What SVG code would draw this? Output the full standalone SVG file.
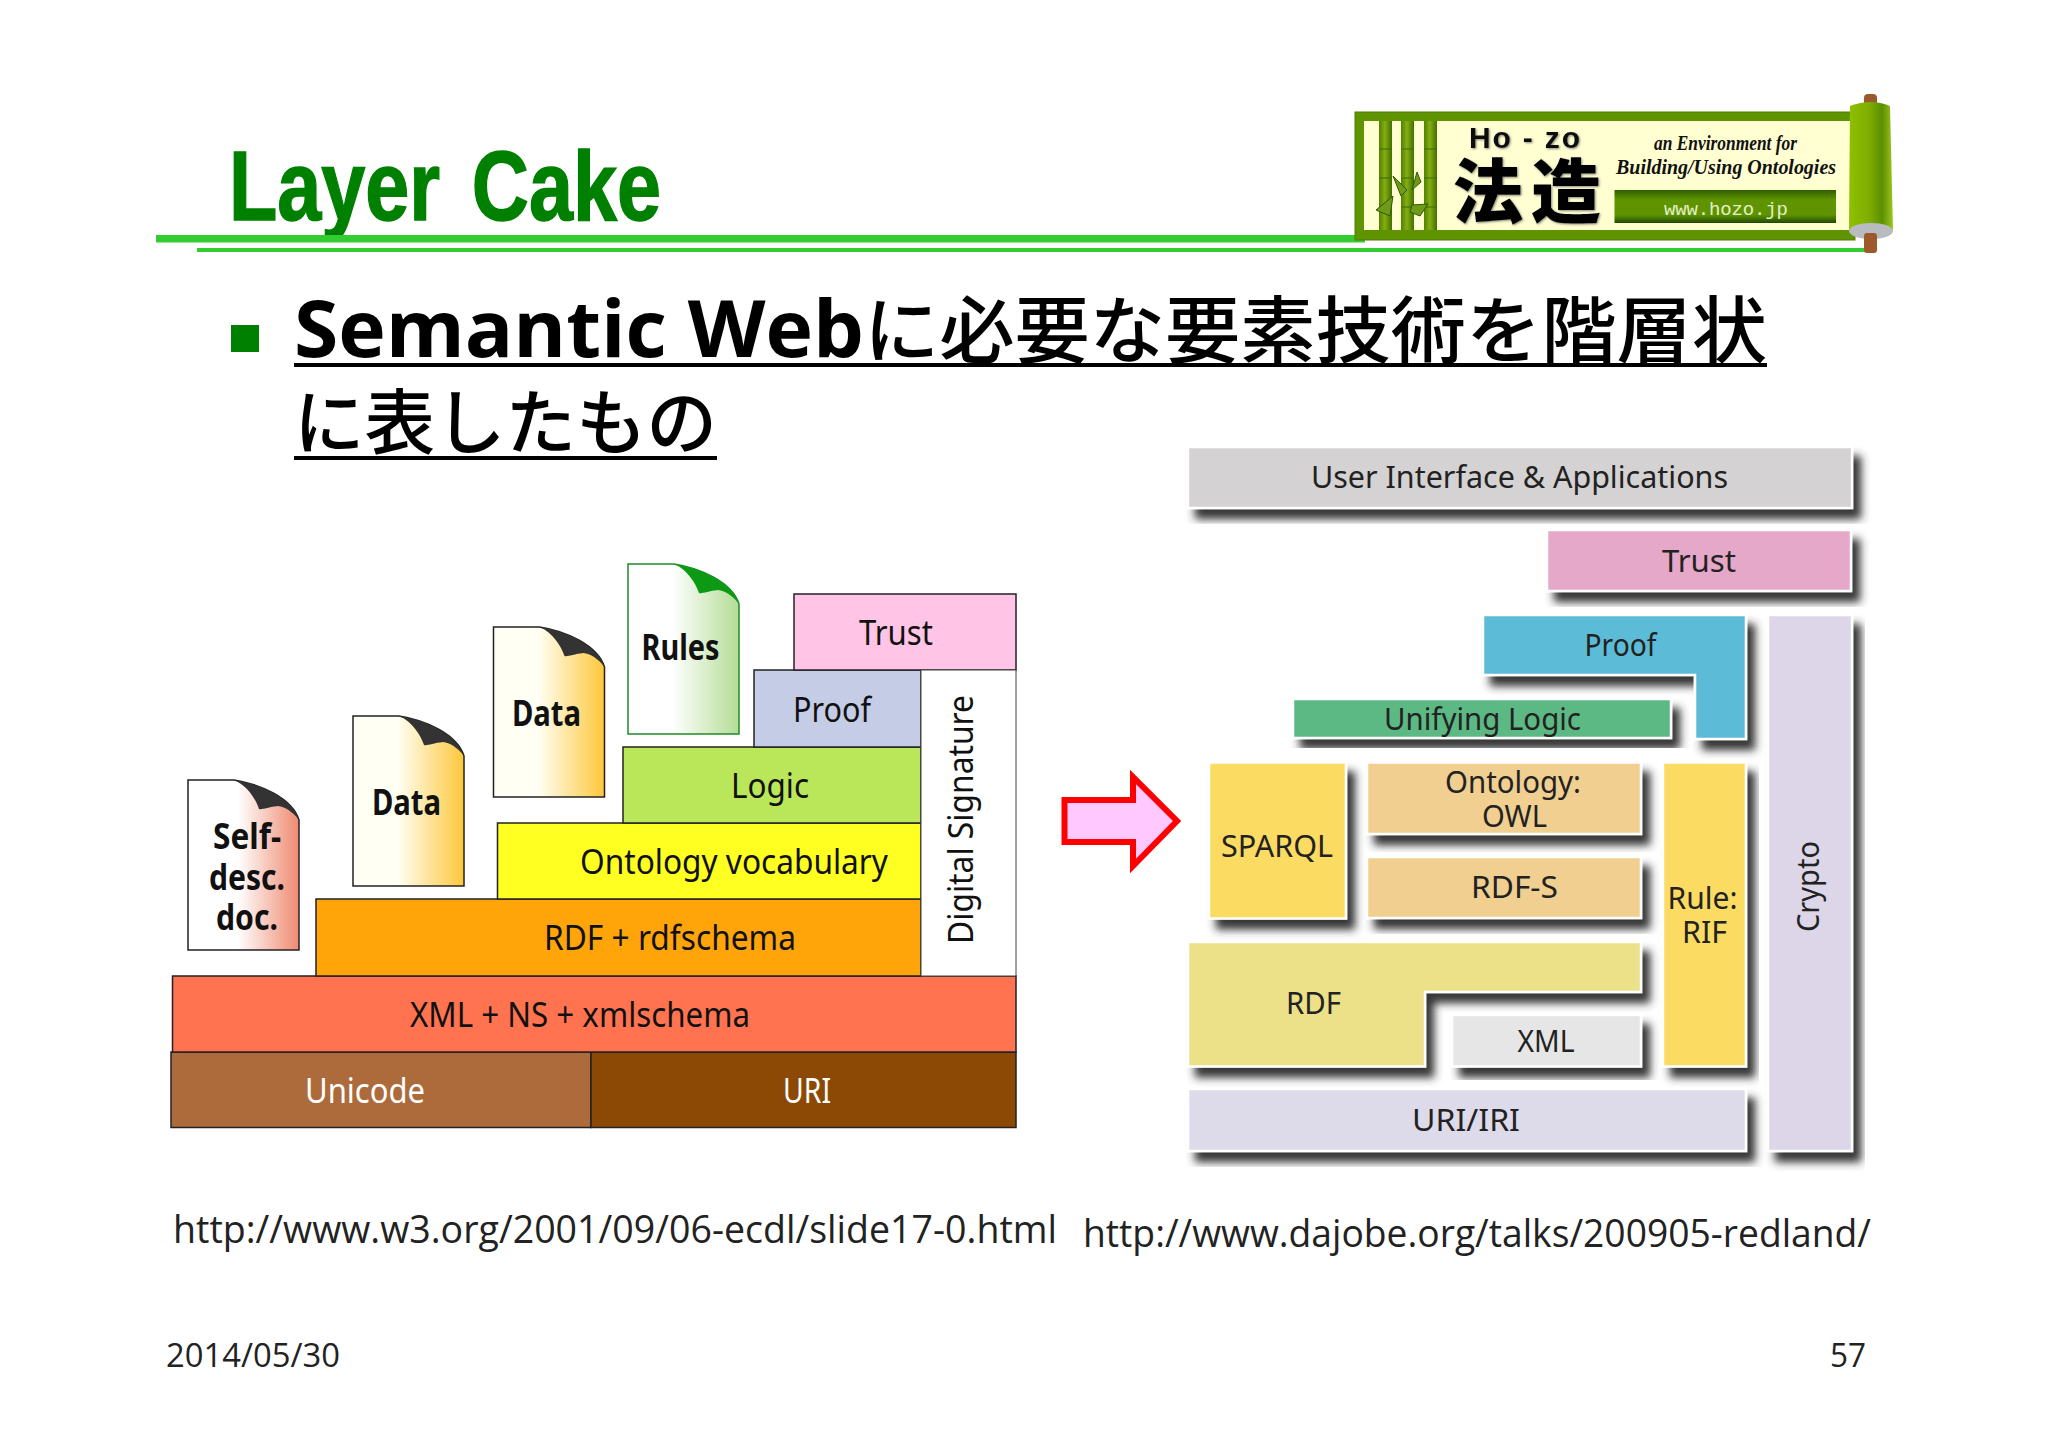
<svg xmlns="http://www.w3.org/2000/svg" width="2048" height="1448" viewBox="0 0 2048 1448">
<style>
text{font-family:"Open Sans","Noto Sans",sans-serif;fill:#111}
.c{font-size:34px;font-family:"Noto Sans","Open Sans",sans-serif}
.r{font-size:30px;font-family:"Noto Sans","Open Sans",sans-serif;fill:#222}
.d{font-size:35px;font-weight:700;font-family:"Noto Sans",sans-serif}
.b{stroke:#222;stroke-width:1.5}
.s{stroke:#fff;stroke-width:2.5}
.jp{font-family:"Open Sans","Noto Sans CJK JP",sans-serif;font-weight:500;fill:#000}
.foot{font-size:38px;fill:#222}
.num{font-size:33px;fill:#222}
.seg{stroke:#3f6b00;stroke-width:1;fill:none}
.bam{fill:url(#bam)}
.leaf{fill:#6f9a18;stroke:#2f5a00;stroke-width:1}
</style>
<defs>
<filter id="sh" x="-10%" y="-10%" width="125%" height="135%"><feDropShadow dx="8" dy="10" stdDeviation="4.5" flood-color="#2a2a2a" flood-opacity="0.95"/></filter>
<filter id="soft" x="-10%" y="-10%" width="120%" height="120%"><feDropShadow dx="1" dy="1" stdDeviation="1" flood-color="#555" flood-opacity="0.7"/></filter>
<linearGradient id="gs"><stop offset="0.45" stop-color="#fff"/><stop offset="1" stop-color="#ef8a70"/></linearGradient>
<linearGradient id="gd"><stop offset="0.4" stop-color="#fffff4"/><stop offset="1" stop-color="#fdc73a"/></linearGradient>
<linearGradient id="gr"><stop offset="0.4" stop-color="#fff"/><stop offset="1" stop-color="#b4dc96"/></linearGradient>
<linearGradient id="bam"><stop offset="0" stop-color="#4f8200"/><stop offset="0.45" stop-color="#86ad14"/><stop offset="1" stop-color="#3f7000"/></linearGradient>
<linearGradient id="rol"><stop offset="0" stop-color="#8fc000"/><stop offset="0.45" stop-color="#7fae00"/><stop offset="0.75" stop-color="#5c8f00"/><stop offset="1" stop-color="#9cc71c"/></linearGradient>
<linearGradient id="bar" x2="0" y2="1"><stop offset="0" stop-color="#2f5e00"/><stop offset="0.3" stop-color="#5f9400"/><stop offset="0.75" stop-color="#5f9400"/><stop offset="1" stop-color="#1f4a00"/></linearGradient>
<path id="doc" d="M0,0H46C72,4 104,18 111,40V170H0Z"/>
<path id="fold" d="M46,0C72,4 104,18 111,40C108,36 100,27 90,26C80,27 74,30 71,29C68,20 60,6 46,0Z"/>
</defs>
<rect width="2048" height="1448" fill="#fff"/>

<g id="title">
<text x="229" y="220" font-size="98" textLength="432" lengthAdjust="spacingAndGlyphs" word-spacing="12" style="font-family:'Liberation Sans',sans-serif;font-weight:700;fill:#008000;stroke:#008000;stroke-width:1.5">Layer Cake</text>
<rect x="156" y="235" width="1209" height="7.5" fill="#33cc33"/>
<rect x="197" y="248" width="1670" height="4" fill="#33cc33"/>
</g>

<g id="logo">
<rect x="1355" y="112" width="500" height="128" fill="#5f9400" stroke="#4f7f00" stroke-width="1"/>
<rect x="1364" y="121" width="490" height="109" fill="#ffffd2"/>
<rect class="bam" x="1379" y="121" width="13" height="109"/>
<rect class="bam" x="1401" y="121" width="13" height="109"/>
<rect class="bam" x="1424" y="121" width="13" height="109"/>
<path class="seg" d="M1379,149H1392M1379,178H1392M1401,149H1414M1401,178H1414M1401,207H1414M1424,149H1437M1424,178H1437M1424,207H1437"/>
<path class="leaf" d="M1393,176L1407,190L1401,196ZM1417,172L1421,182L1412,190ZM1393,196L1376,210L1390,216ZM1412,205L1428,204L1420,216L1410,212Z"/>
<text x="1469" y="148" font-size="30" textLength="111" style="font-family:'Liberation Sans',sans-serif;font-weight:700;fill:#111" filter="url(#soft)">Ho - zo</text>
<text x="1453" y="218" font-size="70" textLength="148" style="font-family:'Noto Sans CJK JP',sans-serif;font-weight:900;fill:#000" filter="url(#soft)">法造</text>
<text x="1654" y="150" font-size="20" textLength="143" lengthAdjust="spacingAndGlyphs" style="font-family:'Liberation Serif',serif;font-style:italic;font-weight:700;fill:#111">an Environment for</text>
<text x="1616" y="174" font-size="22" textLength="220" lengthAdjust="spacingAndGlyphs" style="font-family:'Liberation Serif',serif;font-style:italic;font-weight:700;fill:#111">Building/Using Ontologies</text>
<rect x="1614.500" y="190" width="221.500" height="33" fill="url(#bar)"/>
<text x="1664" y="215" font-size="19" textLength="124" style="font-family:'Liberation Mono',monospace;fill:#e4f0c8">www.hozo.jp</text>
<rect x="1864" y="94" width="13" height="12" rx="4" fill="#9c5a2c"/>
<path d="M1850,106Q1871,98 1890,106L1893,230Q1871,246 1849,230Z" fill="url(#rol)"/>
<ellipse cx="1871" cy="231" rx="22" ry="8" fill="#b8bcc0"/>
<rect x="1864" y="233" width="13" height="20" rx="3" fill="#9c5a2c"/>
</g>

<g id="heading">
<rect x="231" y="325" width="28" height="27" fill="#008000"/>
<text class="jp" x="294" y="357" font-size="73" textLength="1473" lengthAdjust="spacingAndGlyphs"><tspan font-size="78" font-weight="700">Semantic Web</tspan>に必要な要素技術を階層状</text>
<rect x="294" y="363" width="1473" height="4" fill="#000"/>
<text class="jp" x="294" y="448" font-size="71" textLength="423" lengthAdjust="spacingAndGlyphs">に表したもの</text>
<rect x="294" y="456" width="423" height="4" fill="#000"/>
</g>

<g id="cake-left">
<g id="l-unicode"><rect class="b" x="171" y="1052" width="420" height="75.500" fill="#ad6b3c"/><text class="c" x="305" y="1103" textLength="120" lengthAdjust="spacingAndGlyphs" style="fill:#fff">Unicode</text></g>
<g id="l-uri"><rect class="b" x="591" y="1052" width="425" height="75.500" fill="#8b4905"/><text class="c" x="783" y="1103" textLength="48" lengthAdjust="spacingAndGlyphs" style="fill:#fff">URI</text></g>
<g id="l-xml"><rect class="b" x="172.500" y="976" width="843.500" height="76" fill="#ff7350"/><text class="c" x="410" y="1027" textLength="340" lengthAdjust="spacingAndGlyphs">XML + NS + xmlschema</text></g>
<g id="l-rdf"><rect class="b" x="316" y="899" width="605" height="77" fill="#ffa50a"/><text class="c" x="544" y="950" textLength="252" lengthAdjust="spacingAndGlyphs">RDF + rdfschema</text></g>
<g id="l-onto"><rect class="b" x="497.500" y="823" width="423.500" height="76" fill="#ffff22"/><text class="c" x="580" y="874" textLength="308" lengthAdjust="spacingAndGlyphs">Ontology vocabulary</text></g>
<g id="l-logic"><rect class="b" x="623" y="747" width="298" height="76" fill="#bae65a"/><text class="c" x="731" y="798" textLength="78" lengthAdjust="spacingAndGlyphs">Logic</text></g>
<g id="l-proof"><rect class="b" x="754" y="670" width="167" height="77" fill="#c5cde6"/><text class="c" x="793" y="722" textLength="78" lengthAdjust="spacingAndGlyphs">Proof</text></g>
<g id="l-trust"><rect class="b" x="794" y="594" width="222" height="76" fill="#ffc4e6"/><text class="c" x="859" y="645" textLength="74" lengthAdjust="spacingAndGlyphs">Trust</text></g>
<g id="l-sig"><rect x="921" y="670" width="95" height="306" fill="#fff" stroke="#444" stroke-width="1"/><text class="c" transform="translate(973,944) rotate(-90)" textLength="249" lengthAdjust="spacingAndGlyphs">Digital Signature</text></g>
<g id="d-self"><use href="#doc" x="188" y="780" fill="url(#gs)" stroke="#222" stroke-width="1.500"/><use href="#fold" x="188" y="780" fill="#333"/><text class="d" x="213" y="849" textLength="68" lengthAdjust="spacingAndGlyphs">Self-</text><text class="d" x="209" y="890" textLength="76" lengthAdjust="spacingAndGlyphs">desc.</text><text class="d" x="216" y="930" textLength="62" lengthAdjust="spacingAndGlyphs">doc.</text></g>
<g id="d-data1"><use href="#doc" x="353" y="716" fill="url(#gd)" stroke="#222" stroke-width="1.500"/><use href="#fold" x="353" y="716" fill="#333"/><text class="d" x="372" y="815" textLength="69" lengthAdjust="spacingAndGlyphs">Data</text></g>
<g id="d-data2"><use href="#doc" x="493.500" y="627" fill="url(#gd)" stroke="#222" stroke-width="1.500"/><use href="#fold" x="493.500" y="627" fill="#333"/><text class="d" x="512" y="726" textLength="69" lengthAdjust="spacingAndGlyphs">Data</text></g>
<g id="d-rules"><use href="#doc" x="628" y="564" fill="url(#gr)" stroke="#1f8a2a" stroke-width="1.500"/><use href="#fold" x="628" y="564" fill="#0c9a14"/><text class="d" x="641.500" y="660" textLength="78" lengthAdjust="spacingAndGlyphs">Rules</text></g>
</g>

<g id="connectors">
<path d="M1064.500,800H1133V777L1177,821L1133,866V842H1064.500Z" fill="#ffc8ff" stroke="#f00" stroke-width="6"/>
</g>

<g id="cake-right">
<g id="r-ui"><rect class="s" filter="url(#sh)" x="1188" y="447" width="664" height="61" fill="#d4d2d2"/><text class="r" x="1311" y="488" textLength="417" lengthAdjust="spacingAndGlyphs">User Interface &amp; Applications</text></g>
<g id="r-trust"><rect class="s" filter="url(#sh)" x="1547" y="530" width="304" height="61" fill="#e6a8c8"/><text class="r" x="1662" y="572" textLength="74" lengthAdjust="spacingAndGlyphs">Trust</text></g>
<g id="r-proof"><path class="s" filter="url(#sh)" d="M1483,615H1746V739H1695V675H1483Z" fill="#5bbcd8"/><text class="r" x="1584.500" y="656" textLength="72" lengthAdjust="spacingAndGlyphs">Proof</text></g>
<g id="r-crypto"><rect class="s" filter="url(#sh)" x="1768" y="615" width="84" height="536" fill="#dcd6e8"/><text class="r" transform="translate(1819,932) rotate(-90)" textLength="91" lengthAdjust="spacingAndGlyphs">Crypto</text></g>
<g id="r-logic"><rect class="s" filter="url(#sh)" x="1293" y="699" width="378" height="39" fill="#5cb983"/><text class="r" x="1384" y="730" textLength="197" lengthAdjust="spacingAndGlyphs">Unifying Logic</text></g>
<g id="r-sparql"><rect class="s" filter="url(#sh)" x="1209" y="762.500" width="137" height="156" fill="#fcdb62"/><text class="r" x="1221" y="857" textLength="112" lengthAdjust="spacingAndGlyphs">SPARQL</text></g>
<g id="r-owl"><rect class="s" filter="url(#sh)" x="1367" y="762.500" width="274" height="71.500" fill="#f0cf90"/><text class="r" x="1445" y="793" textLength="136" lengthAdjust="spacingAndGlyphs">Ontology:</text><text class="r" x="1482" y="827" textLength="65" lengthAdjust="spacingAndGlyphs">OWL</text></g>
<g id="r-rdfs"><rect class="s" filter="url(#sh)" x="1367" y="857" width="274" height="61" fill="#f0cf90"/><text class="r" x="1471" y="898" textLength="87" lengthAdjust="spacingAndGlyphs">RDF-S</text></g>
<g id="r-rif"><rect class="s" filter="url(#sh)" x="1663" y="762.500" width="83" height="304" fill="#fcdb62"/><text class="r" x="1667.500" y="909" textLength="70" lengthAdjust="spacingAndGlyphs">Rule:</text><text class="r" x="1682" y="943" textLength="45" lengthAdjust="spacingAndGlyphs">RIF</text></g>
<g id="r-rdf"><path class="s" filter="url(#sh)" d="M1188,942H1641V992H1425V1066.500H1188Z" fill="#ece088"/><text class="r" x="1286" y="1014" textLength="55" lengthAdjust="spacingAndGlyphs">RDF</text></g>
<g id="r-xml"><rect class="s" filter="url(#sh)" x="1452" y="1015" width="189" height="51.500" fill="#e6e6e6"/><text class="r" x="1517.500" y="1052" textLength="57" lengthAdjust="spacingAndGlyphs">XML</text></g>
<g id="r-uri"><rect class="s" filter="url(#sh)" x="1188" y="1089" width="558" height="62" fill="#dddbea"/><text class="r" x="1412" y="1131" textLength="108" lengthAdjust="spacingAndGlyphs">URI/IRI</text></g>
</g>

<g id="footer">
<text class="foot" x="173" y="1243" textLength="884" lengthAdjust="spacingAndGlyphs">http://www.w3.org/2001/09/06-ecdl/slide17-0.html</text>
<text class="foot" x="1083" y="1247" textLength="788" lengthAdjust="spacingAndGlyphs">http://www.dajobe.org/talks/200905-redland/</text>
<text class="num" x="166" y="1367" textLength="174" lengthAdjust="spacingAndGlyphs">2014/05/30</text>
<text class="num" x="1830" y="1367" textLength="36" lengthAdjust="spacingAndGlyphs">57</text>
</g>
</svg>
